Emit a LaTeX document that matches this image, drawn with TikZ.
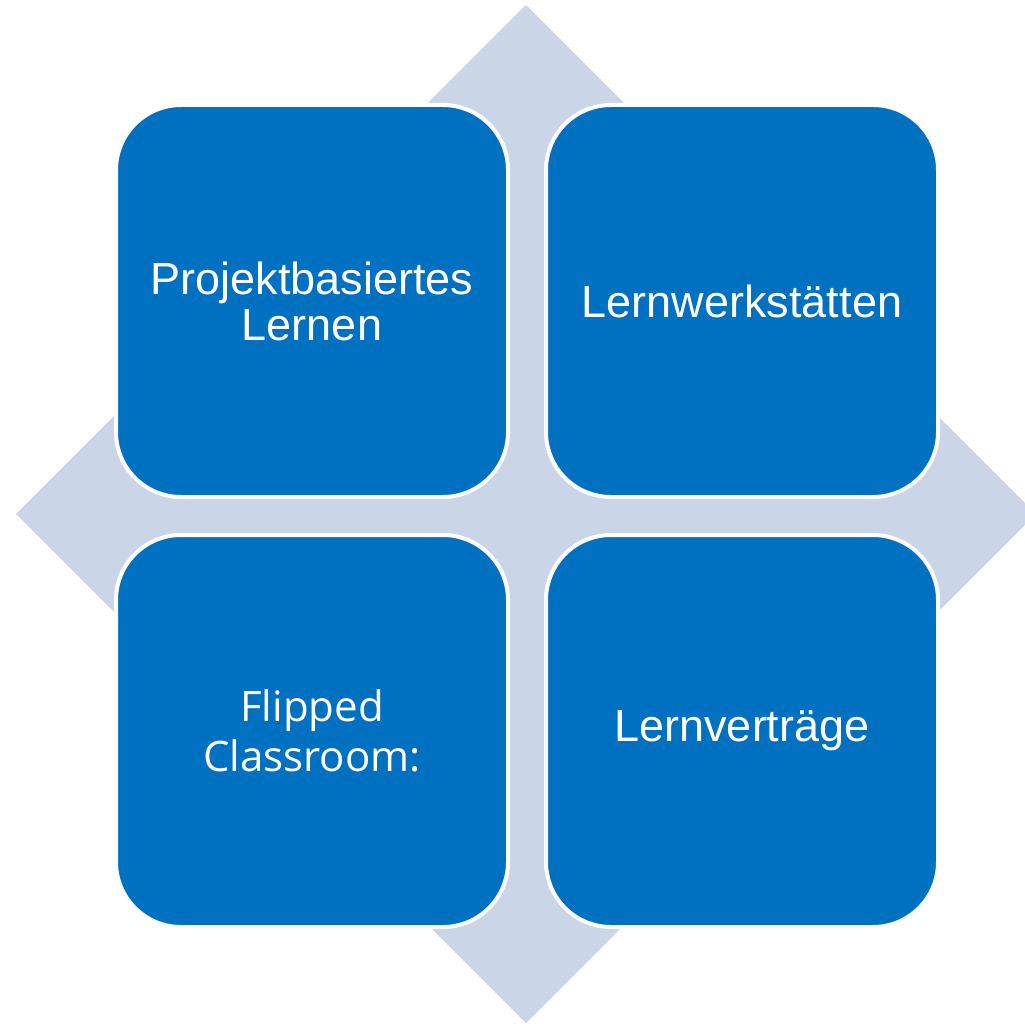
\documentclass[tikz,border=0pt]{standalone}
\usepackage{fontspec}
\setmainfont{Liberation Sans}
\newfontfamily\flipfont{Open Sans}
\usepackage{tikz}
\usetikzlibrary{positioning}
\definecolor{boxblue}{RGB}{0,112,192}
\definecolor{diamondgray}{RGB}{202,213,231}
\tikzset{tile/.style={rectangle, rounded corners=65pt, minimum width=392pt, minimum height=392pt,
  fill=boxblue, draw=white, line width=4pt, text=white, align=center,
  font=\fontsize{45}{46}\selectfont}}

\begin{document}
\begin{tikzpicture}[x=1pt,y=-1pt]
\useasboundingbox (0,0) rectangle (1025,1024);
\begin{scope}
\clip (0,0) rectangle (1025,1024);
\fill[diamondgray] (526,5) -- (16,514) -- (526,1023) -- (1036,514) -- cycle;
\end{scope}
\node[tile] (projekt) at (312,301) {Projektbasiertes\\Lernen};
\node[tile] (werkstatt) at (742,301) {Lernwerkst\"atten};
\node[tile, font=\flipfont\fontsize{42}{50}\selectfont] (flipped) at (312,731) {Flipped\\Classroom:};
\node[tile] (vertrag) at (742,731) {Lernvertr\"age};
\end{tikzpicture}
\end{document}
